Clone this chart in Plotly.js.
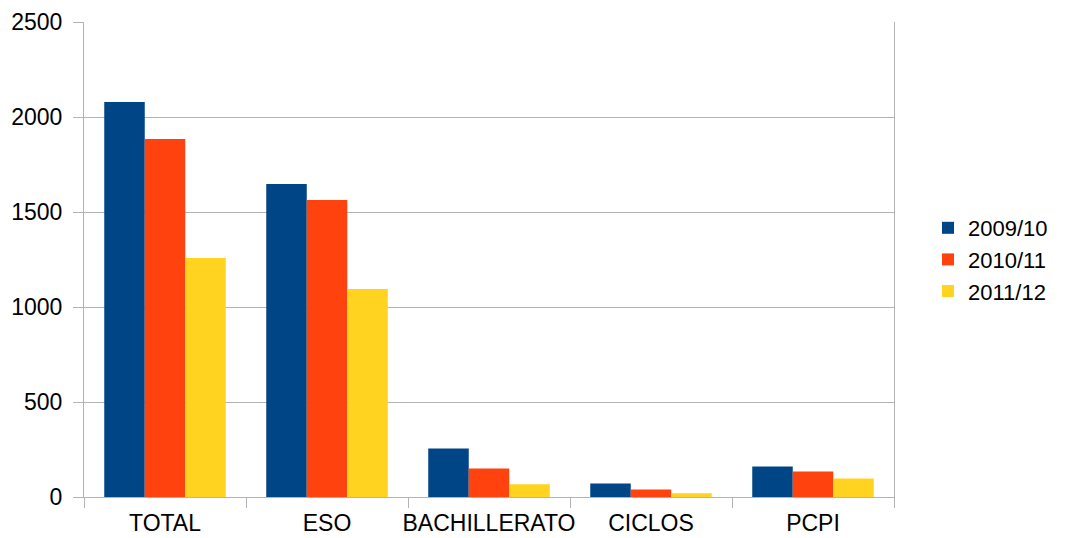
<!DOCTYPE html>
<html><head><meta charset="utf-8">
<script src="https://cdn.plot.ly/plotly-3.0.1.min.js"></script>
<style>html,body{margin:0;padding:0;background:#fff;}#chart{width:1065px;height:538px;}</style>
</head><body><div id="chart"></div>
<script>
const categories = ["TOTAL", "ESO", "BACHILLERATO", "CICLOS", "PCPI"];
const s2009 = [2079, 1647, 255, 71, 160];
const s2010 = [1884, 1563, 150, 39, 134];
const s2011 = [1258, 1095, 67, 20, 97];
const seriesNames = ["2009/10", "2010/11", "2011/12"];
const colors = ["#004586", "#ff420e", "#ffd320"];

const data = [s2009, s2010, s2011].map((v, i) => ({
  type: "bar", x: categories, y: v, name: seriesNames[i],
  marker: {color: colors[i], line: {width: 0}}
}));

const layout = {
  width: 1065, height: 538,
  margin: {l: 84, r: 169, t: 22, b: 41, pad: 0},
  paper_bgcolor: "#fff", plot_bgcolor: "#fff",
  font: {family: "Liberation Sans, Arial, sans-serif", size: 23, color: "#000"},
  barmode: "group", bargap: 0.25, bargroupgap: 0,
  showlegend: true,
  legend: {x: 1.042, xanchor: "left", y: 0.5, yanchor: "middle",
    font: {size: 22}, itemwidth: 30, tracegroupgap: 0, bgcolor: "rgba(0,0,0,0)", borderwidth: 0},
  xaxis: {
    type: "category", tickson: "boundaries", ticks: "outside", ticklen: 10,
    tickcolor: "#b3b3b3", showline: true, linecolor: "#b3b3b3", linewidth: 1,
    showgrid: false, zeroline: false, tickfont: {size: 23}, ticklabelstandoff: 5,
    tickangle: 0, automargin: false
  },
  yaxis: {
    range: [0, 2500], dtick: 500, ticks: "outside", ticklen: 10,
    tickcolor: "#b3b3b3", showline: true, linecolor: "#b3b3b3", linewidth: 1,
    mirror: true, gridcolor: "#b3b3b3", gridwidth: 1, zeroline: false,
    tickfont: {size: 23}, ticklabelstandoff: 6, automargin: false
  }
};
Plotly.newPlot("chart", data, layout, {displayModeBar: false, staticPlot: true});
</script></body></html>
